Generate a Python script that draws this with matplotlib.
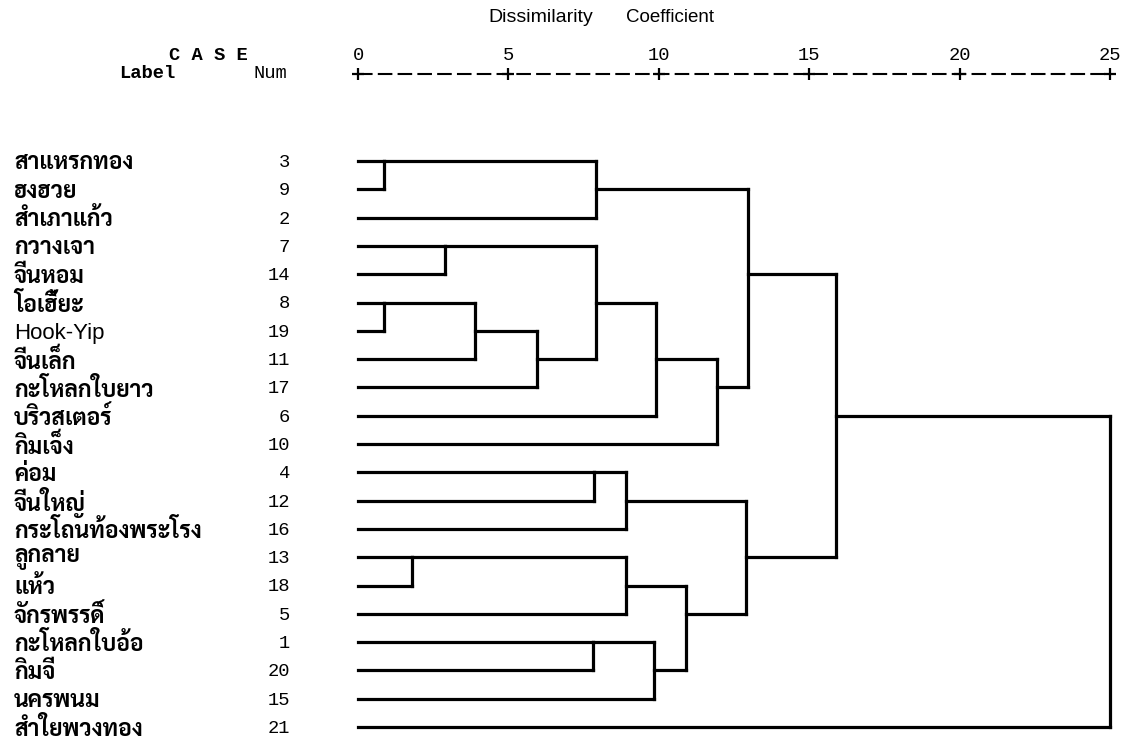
import math
import matplotlib
matplotlib.use("Agg")
import matplotlib.pyplot as plt
import matplotlib.transforms as mtransforms
from matplotlib import font_manager

# cases, top to bottom as printed
labels = ['สาแหรกทอง', 'ฮงฮวย', 'สำเภาแก้ว', 'กวางเจา', 'จีนหอม', 'โอเฮี้ยะ',
          'Hook-Yip', 'จีนเล็ก', 'กะโหลกใบยาว', 'บริวสเตอร์', 'กิมเจ็ง', 'ค่อม',
          'จีนใหญ่', 'กระโถนท้องพระโรง', 'ลูกลาย', 'แห้ว', 'จักรพรรดิ์',
          'กะโหลกใบอ้อ', 'กิมจี', 'นครพนม', 'สำใยพวงทอง']
nums = [3, 9, 2, 7, 14, 8, 19, 11, 17, 6, 10, 4, 12, 16, 13, 18, 5, 1, 20, 15, 21]

# agglomeration: (child a, child b, rescaled distance); ids >= 21 are earlier merges
merge_a = [0, 5, 14, 3, 22, 25, 17, 11, 21, 24, 28, 23, 27, 30, 32, 34, 29, 31, 37, 39]
merge_b = [1, 6, 15, 4, 7, 8, 18, 12, 2, 26, 13, 16, 19, 9, 33, 10, 36, 35, 38, 20]
merge_d = [0.85, 0.85, 1.8, 2.9, 3.9, 5.95, 7.8, 7.85, 7.9, 7.9, 8.9, 8.9, 9.85,
           9.9, 10.9, 11.95, 12.95, 12.9, 15.9, 25.0]

ticks = [0, 5, 10, 15, 20, 25]

names = {f.name for f in font_manager.fontManager.ttflist}
thai = [f for f in ['Sarabun', 'Noto Sans Thai', 'Taviraj', 'Chakra Petch'] if f in names][0]

fig = plt.figure(figsize=(11.29, 7.45), dpi=100)
W, H = 1129, 745
row0, row_last = 161, 727
step = (row_last - row0) / 20
x0, x25 = 358, 1110
ax = fig.add_axes([x0 / W, 1 - (row_last + step / 2) / H, (x25 - x0) / W, (row_last - row0 + step) / H])
ax.set_xlim(0, 25)
ax.set_ylim(20.5, -0.5)
ax.axis('off')

pos = list(range(len(labels)))
hgt = [0.0] * len(labels)
lw = 2.3
for a, b, d in zip(merge_a, merge_b, merge_d):
    ax.plot([hgt[a], d], [pos[a], pos[a]], color='black', lw=lw, clip_on=False, solid_capstyle='projecting')
    ax.plot([hgt[b], d], [pos[b], pos[b]], color='black', lw=lw, clip_on=False, solid_capstyle='projecting')
    ax.plot([d, d], [pos[a], pos[b]], color='black', lw=lw, clip_on=False, solid_capstyle='projecting')
    pos.append(math.floor((pos[a] + pos[b]) / 2))
    hgt.append(d)

# case labels and numbers
lab_tr = mtransforms.blended_transform_factory(fig.transFigure, ax.transData)
for i, (lab, n) in enumerate(zip(labels, nums)):
    latin = lab.isascii()
    ax.text(14 / W, i + 0.08, lab, transform=lab_tr, ha='left', va='center',
            fontsize=16 if latin else 16.5, fontweight='normal' if latin else 'bold',
            family=['Liberation Sans'] if latin else [thai, 'DejaVu Sans'])
    ax.text(290 / W, i + 0.05, str(n), transform=lab_tr, ha='right', va='center',
            fontsize=13.5, family='Liberation Mono')

# header
top_tr = mtransforms.blended_transform_factory(ax.transData, fig.transFigure)
fig.text(541 / W, 1 - 18 / H, 'Dissimilarity', ha='center', va='center',
         fontsize=14, family='Liberation Sans')
fig.text(670 / W, 1 - 18 / H, 'Coefficient', ha='center', va='center',
         fontsize=13.5, family='Liberation Sans')
fig.text(208 / W, 1 - 55 / H, 'C A S E', ha='center', va='center', fontsize=13.5,
         family='Liberation Mono', fontweight='bold')
fig.text(147 / W, 1 - 73 / H, 'Label', ha='center', va='center', fontsize=13.5,
         family='Liberation Mono', fontweight='bold')
fig.text(270 / W, 1 - 73 / H, 'Num', ha='center', va='center', fontsize=13.5,
         family='Liberation Mono')
for t in ticks:
    ax.text(t, 1 - 56 / H, str(t), transform=top_tr, ha='center', va='center',
            fontsize=13.5, family='Liberation Mono')
ax.plot([0, 25], [1 - 74 / H] * 2, transform=top_tr, color='black', lw=1.5,
        dashes=(7, 2.5), clip_on=False)
ax.plot(ticks, [1 - 74 / H] * len(ticks), transform=top_tr, ls='none', marker='+',
        ms=9, mew=1.6, color='black', clip_on=False)

fig.savefig('out.png', dpi=100)
